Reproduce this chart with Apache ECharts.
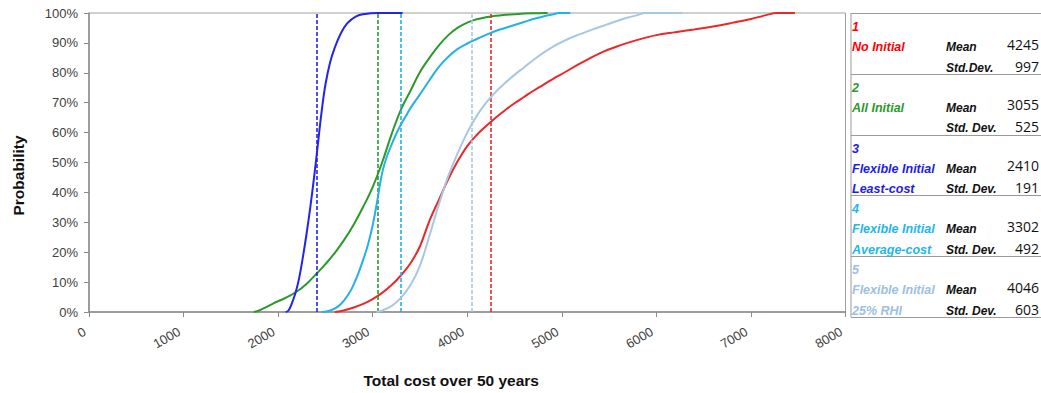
<!DOCTYPE html>
<html><head><meta charset="utf-8">
<script src="https://cdn.jsdelivr.net/npm/echarts@6/dist/echarts.min.js"></script>
<style>html,body{margin:0;padding:0;background:#fff}#c{width:1041px;height:393px}</style>
</head><body><div id="c"></div>
<script>
// ---- data ----
const seriesNames = ['No Initial', 'All Initial', 'Flexible Initial Least-cost', 'Flexible Initial Average-cost', 'Flexible Initial 25% RHI'];
const legendNumbers = ['1', '2', '3', '4', '5'];
const legendLine1 = ['No Initial', 'All Initial', 'Flexible Initial', 'Flexible Initial', 'Flexible Initial'];
const legendLine2 = ['', '', 'Least-cost', 'Average-cost', '25% RHI'];
const meanLabel = 'Mean';
const stdLabels = ['Std.Dev.', 'Std. Dev.', 'Std. Dev.', 'Std. Dev.', 'Std. Dev.'];
const means = [4245, 3055, 2410, 3302, 4046];
const stdDevs = [997, 525, 191, 492, 603];

// cumulative probability (%) vs total cost
const noInitial = [[2600,0],[2700,0.6],[2800,1.5],[2900,2.7],[3000,4.3],[3100,6.4],[3200,9],[3300,12.3],[3400,16.3],[3500,22],[3600,30.5],[3700,37.5],[3800,44.5],[3900,50.5],[4000,55.5],[4100,59.2],[4200,62.2],[4300,65],[4400,67.5],[4500,69.8],[4600,71.9],[4700,74],[4800,75.9],[4900,77.8],[5000,79.6],[5200,83.2],[5400,86.5],[5600,89],[5800,91],[6000,92.6],[6200,93.6],[6400,94.5],[6600,95.5],[6800,96.7],[7000,98],[7150,99.2],[7276,100],[7466,100]];
const allInitial = [[1742,0],[1800,0.5],[1880,1.7],[1955,3],[2070,4.6],[2186,6.6],[2300,9.4],[2421,13.3],[2500,16],[2600,19.8],[2700,24.2],[2800,29.3],[2900,35.2],[3000,41.8],[3100,50],[3200,59.5],[3300,67.8],[3400,74],[3500,80.3],[3600,85],[3700,89.2],[3800,92.6],[3900,95.1],[4000,96.8],[4100,97.9],[4200,98.6],[4300,99.1],[4400,99.4],[4500,99.6],[4600,99.8],[4700,99.9],[4850,100]];
const leastCost = [[2080,0],[2110,0.5],[2140,2.5],[2180,6],[2220,11],[2260,18],[2300,26],[2340,35],[2380,45],[2420,56],[2460,67],[2500,76],[2550,83.5],[2600,88.5],[2660,93],[2730,96.5],[2820,98.8],[2920,99.7],[3050,100],[3316,100]];
const averageCost = [[2460,0],[2550,0.5],[2632,1.8],[2700,4],[2772,7.4],[2843,12.5],[2900,17.5],[2950,22.5],[3000,29],[3050,37.5],[3100,46.5],[3150,52],[3200,56],[3250,59.6],[3300,62.8],[3350,65.5],[3400,68.2],[3500,72.8],[3600,77.5],[3700,82],[3800,85.4],[3900,88],[4000,89.8],[4100,91.3],[4200,92.7],[4300,94],[4400,95],[4500,96],[4600,97],[4700,98],[4800,98.8],[4900,99.5],[4980,100],[5090,100]];
const rhi25 = [[3040,0],[3100,0.5],[3200,2],[3300,4.8],[3400,9],[3500,15.5],[3600,25.5],[3700,36],[3800,45.5],[3900,53.2],[4000,60],[4100,65.6],[4200,70],[4300,73.6],[4400,76.6],[4500,79.3],[4600,81.8],[4700,84.3],[4800,86.6],[4900,88.6],[5000,90.3],[5100,91.8],[5200,93],[5300,94.2],[5400,95.3],[5500,96.4],[5600,97.5],[5700,98.5],[5800,99.3],[5880,100],[6272,100]];
const curves = [noInitial, allInitial, leastCost, averageCost, rhi25];

const xAxisTitle = 'Total cost over 50 years';
const yAxisTitle = 'Probability';

// ---- styles ----
const lineColors = ['#e8282a', '#2b992b', '#2323ee', '#23b2e3', '#a7c7e3'];
const textColors = ['#ff0000', '#2b992b', '#1c1cf0', '#1fb6ea', '#9cc0e0'];

const chart = echarts.init(document.getElementById('c'), null, {renderer: 'svg'});

const series = curves.map((d, i) => ({
  name: seriesNames[i],
  type: 'line',
  data: d,
  showSymbol: false,
  smooth: 0.4,
  lineStyle: {color: lineColors[i], width: 2},
  itemStyle: {color: lineColors[i]},
  z: 3 + i,
  markLine: {
    silent: true,
    symbol: 'none',
    label: {show: false},
    lineStyle: {color: lineColors[i], width: 1.6, type: [4, 2]},
    data: [{xAxis: means[i]}]
  }
}));

// legend table built from data arrays
const graphics = [];
const boxX = 851, boxTop = 13, blockH = 60.8, boxRight = 1045;
graphics.push({type: 'line', shape: {x1: boxX, y1: boxTop, x2: boxX, y2: boxTop + 5 * blockH}, style: {stroke: '#9a9a9a', lineWidth: 1}});
for (let i = 0; i <= 5; i++) {
  const y = Math.round(boxTop + i * blockH) + 0.5;
  graphics.push({type: 'line', shape: {x1: boxX, y1: y, x2: boxRight, y2: y}, style: {stroke: '#9a9a9a', lineWidth: 1}});
}
const bi = 'italic bold 12.5px "Liberation Sans", Arial, sans-serif';
for (let i = 0; i < 5; i++) {
  const T = boxTop + i * blockH;
  const add = (text, x, y, font, fill, align) => graphics.push({
    type: 'text', x: x, y: y,
    style: {text: text, font: font, fill: fill, align: align || 'left', verticalAlign: 'middle'}
  });
  add(legendNumbers[i], 852, T + 14, bi, textColors[i]);
  add(legendLine1[i], 852, T + 34, bi, textColors[i]);
  if (legendLine2[i]) add(legendLine2[i], 852, T + 54.5, bi, textColors[i]);
  add(meanLabel, 946, T + 34, 'italic bold 12px "Liberation Sans", Arial, sans-serif', '#111');
  add(stdLabels[i], 946, T + 54.5, 'italic bold 12px "Liberation Sans", Arial, sans-serif', '#111');
  add(String(means[i]), 1039, T + 31, '14px "Open Sans", sans-serif', '#111', 'right');
  add(String(stdDevs[i]), 1039, T + 53, '14px "Open Sans", sans-serif', '#111', 'right');
}

chart.setOption({
  animation: false,
  backgroundColor: '#fff',
  grid: {left: 89, right: 195.5, top: 13, bottom: 81, show: true, borderColor: '#a0a0a0', borderWidth: 1},
  xAxis: {
    type: 'value', min: 0, max: 8000, interval: 1000,
    name: xAxisTitle, nameLocation: 'middle', nameGap: 60,
    nameTextStyle: {fontFamily: 'Liberation Sans', fontWeight: 'bold', fontSize: 15.5, color: '#111', padding: [0, 32, 0, 0]},
    axisLine: {show: true, lineStyle: {color: '#8c8c8c', width: 1.5}},
    axisTick: {show: true, length: 5, lineStyle: {color: '#8c8c8c'}},
    axisLabel: {rotate: 30, margin: 16, padding: [0, 5, 0, 0], fontFamily: 'Liberation Sans', fontSize: 13, color: '#404040',
      showMaxLabel: true, formatter: v => String(v)},
    splitLine: {show: false}
  },
  yAxis: {
    type: 'value', min: 0, max: 100, interval: 10,
    name: yAxisTitle, nameLocation: 'middle', nameGap: 63,
    nameTextStyle: {fontFamily: 'Liberation Sans', fontWeight: 'bold', fontSize: 15.5, color: '#111', padding: [0, 26, 0, 0]},
    axisLine: {show: true, lineStyle: {color: '#8c8c8c', width: 1.5}},
    axisTick: {show: true, length: 5, lineStyle: {color: '#8c8c8c'}},
    axisLabel: {formatter: '{value}%', margin: 11, fontFamily: 'Liberation Sans', fontSize: 13, color: '#404040'},
    splitLine: {show: false}
  },
  series: series,
  graphic: graphics
});
</script>
</body></html>
